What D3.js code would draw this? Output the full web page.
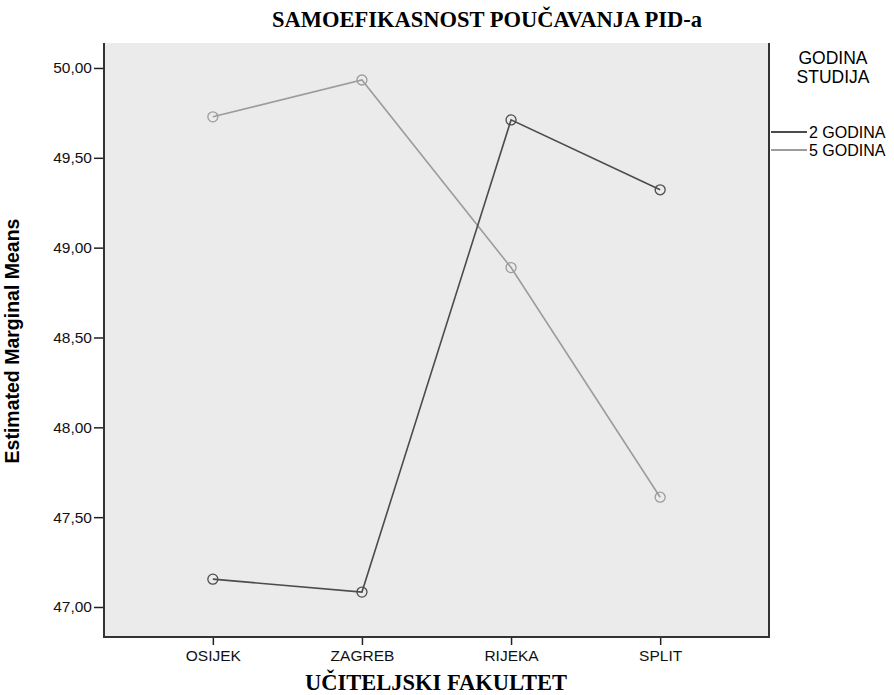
<!DOCTYPE html>
<html>
<head>
<meta charset="utf-8">
<script src="https://cdn.jsdelivr.net/npm/d3@7/dist/d3.min.js"></script>
<style>
  body { margin: 0; background: #fff; }
  svg { display: block; }
</style>
</head>
<body>
<div id="chart"></div>
<script>
// values
const fakulteti = ['OSIJEK', 'ZAGREB', 'RIJEKA', 'SPLIT'];
const godina2 = [47.155, 47.083, 49.711, 49.322];
const godina5 = [49.728, 49.933, 48.889, 47.611];
const serije = ['2 GODINA', '5 GODINA'];
const yTicks = [47.0, 47.5, 48.0, 48.5, 49.0, 49.5, 50.0];

const width = 894, height = 695;
const plotL = 104, plotR = 769, plotT = 43, plotB = 637;

const svg = d3.select('#chart').append('svg')
  .attr('width', width)
  .attr('height', height);

const x = d3.scalePoint()
  .domain(fakulteti)
  .range([plotL, plotR])
  .padding(0.73);

const y = d3.scaleLinear()
  .domain([46.833, 50.139])
  .range([plotB, plotT]);

const color = d3.scaleOrdinal()
  .domain(serije)
  .range(['#4c4c4c', '#9c9c9c']);

// plot background
svg.append('rect')
  .attr('x', plotL)
  .attr('y', plotT)
  .attr('width', plotR - plotL)
  .attr('height', plotB - plotT)
  .attr('fill', '#ebebeb');

// y axis
const yAxis = d3.axisLeft(y)
  .tickValues(yTicks)
  .tickSize(10)
  .tickPadding(2)
  .tickFormat(d => d3.format('.2f')(d).replace('.', ','));

const yG = svg.append('g')
  .attr('transform', 'translate(' + plotL + ',0)')
  .call(yAxis);
yG.select('.domain').remove();
yG.selectAll('line').attr('stroke', '#222').attr('stroke-width', 1.5);
yG.selectAll('text')
  .attr('font-family', 'Liberation Sans, Arial, sans-serif')
  .attr('font-size', 15.5)
  .attr('fill', '#111');

// x axis
const xAxis = d3.axisBottom(x)
  .tickSize(8)
  .tickPadding(5);

const xG = svg.append('g')
  .attr('transform', 'translate(0,' + plotB + ')')
  .call(xAxis);
xG.select('.domain').remove();
xG.selectAll('line').attr('stroke', '#222').attr('stroke-width', 1.5);
xG.selectAll('text')
  .attr('font-family', 'Liberation Sans, Arial, sans-serif')
  .attr('font-size', 15.5)
  .attr('fill', '#111');

// frame: left, bottom, right
svg.append('path')
  .attr('d', 'M' + plotL + ',' + plotT + 'V' + plotB + 'H' + plotR + 'V' + plotT)
  .attr('fill', 'none')
  .attr('stroke', '#333')
  .attr('stroke-width', 2);

// lines and markers
const series = [
  { name: '2 GODINA', values: godina2 },
  { name: '5 GODINA', values: godina5 }
];

const line = d3.line()
  .x((d, i) => x(fakulteti[i]))
  .y(d => y(d));

// draw light series first so the dark one sits on top
series.slice().reverse().forEach(s => {
  svg.append('path')
    .datum(s.values)
    .attr('fill', 'none')
    .attr('stroke', color(s.name))
    .attr('stroke-width', 1.6)
    .attr('d', line);

  svg.selectAll('circle.m' + s.name.charAt(0))
    .data(s.values)
    .enter()
    .append('circle')
    .attr('class', 'm' + s.name.charAt(0))
    .attr('cx', (d, i) => x(fakulteti[i]))
    .attr('cy', d => y(d))
    .attr('r', 5)
    .attr('fill', 'none')
    .attr('stroke', color(s.name))
    .attr('stroke-width', 1.3);
});

// titles
svg.append('text')
  .attr('x', 487)
  .attr('y', 27)
  .attr('text-anchor', 'middle')
  .attr('font-family', 'Liberation Serif, Times New Roman, serif')
  .attr('font-weight', 'bold')
  .attr('font-size', 22.5)
  .text('SAMOEFIKASNOST POUČAVANJA PID-a');

svg.append('text')
  .attr('x', 436)
  .attr('y', 690)
  .attr('text-anchor', 'middle')
  .attr('font-family', 'Liberation Serif, Times New Roman, serif')
  .attr('font-weight', 'bold')
  .attr('font-size', 22.5)
  .text('UČITELJSKI FAKULTET');

svg.append('text')
  .attr('transform', 'translate(19,341) rotate(-90)')
  .attr('text-anchor', 'middle')
  .attr('font-family', 'Liberation Sans, Arial, sans-serif')
  .attr('font-weight', 'bold')
  .attr('font-size', 19.5)
  .text('Estimated Marginal Means');

// legend
const lg = svg.append('g');
lg.append('text')
  .attr('x', 833).attr('y', 64)
  .attr('text-anchor', 'middle')
  .attr('font-family', 'Liberation Sans, Arial, sans-serif')
  .attr('font-size', 17.5)
  .text('GODINA');
lg.append('text')
  .attr('x', 833).attr('y', 83)
  .attr('text-anchor', 'middle')
  .attr('font-family', 'Liberation Sans, Arial, sans-serif')
  .attr('font-size', 17.5)
  .text('STUDIJA');

serije.forEach((name, i) => {
  const ly = 132 + i * 18;
  lg.append('line')
    .attr('x1', 771).attr('x2', 807)
    .attr('y1', ly).attr('y2', ly)
    .attr('stroke', color(name))
    .attr('stroke-width', 1.8);
  lg.append('text')
    .attr('x', 809).attr('y', ly + 5.5)
    .attr('font-family', 'Liberation Sans, Arial, sans-serif')
    .attr('font-size', 16)
    .text(name);
});
</script>
</body>
</html>
